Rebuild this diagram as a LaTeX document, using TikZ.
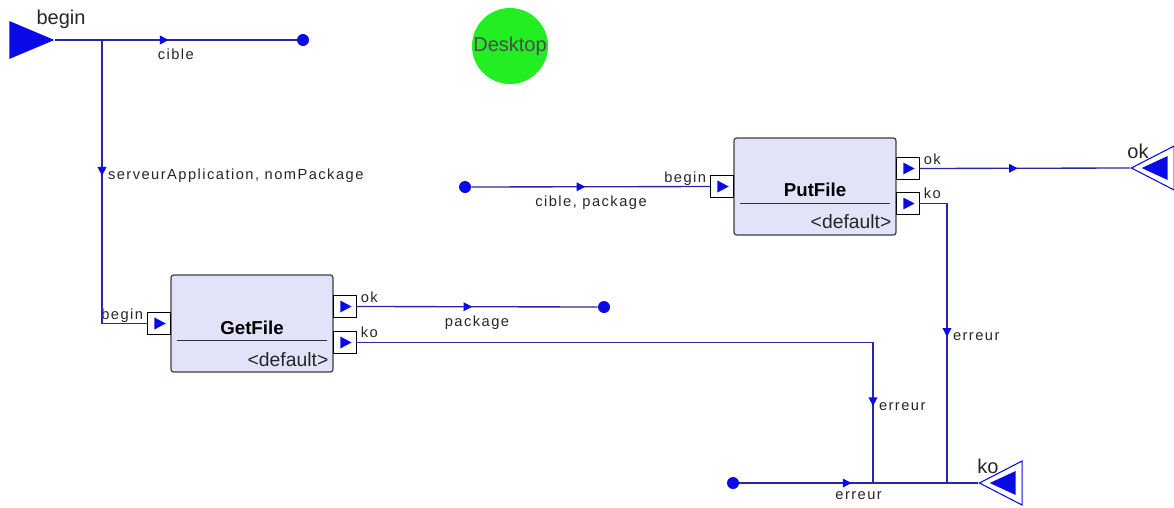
\documentclass[tikz,border=0pt]{standalone}
\usepackage{fontspec}
\setmainfont{Liberation Sans}
\newfontfamily\wirefont[LetterSpace=10]{Liberation Sans}
\usetikzlibrary{positioning,calc,shapes.geometric,decorations.markings,arrows.meta}

\definecolor{wireblue}{RGB}{40,40,165}
\definecolor{markblue}{RGB}{10,10,230}
\definecolor{boxfill}{RGB}{226,226,248}
\definecolor{boxline}{RGB}{60,60,70}
\definecolor{desktopgreen}{RGB}{34,238,34}

\begin{document}
\begin{tikzpicture}[
    x=0.75pt,
    y=-0.75pt,
    wire/.style={
        draw=wireblue,
        line width=1pt
    },
    flowmark/.style={
        postaction={decorate},
        decoration={markings,
            mark=at position #1 with {\arrow[markblue]{Triangle[length=6.5pt,width=6.5pt]}}}
    },
    wlabel/.style={
        font=\wirefont\fontsize{11}{13}\selectfont,
        text=black!85,
        inner sep=1pt
    },
    termlabel/.style={
        font=\fontsize{15}{17}\selectfont,
        text=black!85,
        inner sep=0pt
    },
    dot/.style={
        circle,
        fill=markblue,
        minimum size=9pt,
        inner sep=0pt
    },
    taskbox/.style={
        draw=boxline,
        fill=boxfill,
        rounded corners=2pt,
        line width=0.9pt,
        minimum width=121.5pt,
        minimum height=72.75pt,
        inner sep=0pt
    },
    tasktitle/.style={
        font=\fontsize{14}{16}\selectfont\bfseries,
        inner sep=0pt
    },
    taskdefault/.style={
        font=\fontsize{14.5}{16}\selectfont,
        text=black!85,
        inner sep=0pt
    },
    sepline/.style={
        draw=black!80,
        line width=0.8pt
    },
    port/.style={
        draw=black,
        fill=white,
        line width=0.8pt,
        minimum size=17pt,
        inner sep=0pt,
        outer sep=0pt,
        path picture={
            \fill[markblue] ([xshift=-3.5pt,yshift=4.5pt]path picture bounding box.center)
                -- ([xshift=5pt]path picture bounding box.center)
                -- ([xshift=-3.5pt,yshift=-4.5pt]path picture bounding box.center) -- cycle;
        }
    },
    startterm/.style={
        isosceles triangle,
        isosceles triangle stretches,
        shape border rotate=0,
        fill=markblue,
        minimum width=28.5pt,
        minimum height=33.75pt,
        inner sep=0pt
    },
    endterm/.style={
        isosceles triangle,
        isosceles triangle stretches,
        shape border rotate=180,
        draw=markblue,
        fill=white,
        line width=0.8pt,
        minimum width=33pt,
        minimum height=32pt,
        inner sep=0pt
    },
    endfill/.style={
        isosceles triangle,
        isosceles triangle stretches,
        shape border rotate=180,
        fill=markblue,
        minimum width=18pt,
        minimum height=19.5pt,
        inner sep=0pt
    },
    desktop/.style={
        circle,
        fill=desktopgreen,
        minimum size=57pt,
        inner sep=0pt,
        text=black!70,
        font=\fontsize{15}{17}\selectfont
    }
]
    \useasboundingbox (0,0) rectangle (1174,507);

    % terminals
    \node[startterm,anchor=apex] (start) at (55,40) {};
    \node[termlabel] (startlabel) at ($(start.apex)+(6,-21)$) {begin};
    \node[endterm,anchor=apex] (okterm) at (1130,168) {};
    \node[endfill,anchor=apex] (okfill) at ($(okterm.apex)+(11,0)$) {};
    \node[termlabel] (oklabel) at ($(okterm.apex)+(8,-17)$) {ok};
    \node[endterm,anchor=apex] (koterm) at (978,483) {};
    \node[endfill,anchor=apex] (kofill) at ($(koterm.apex)+(11,0)$) {};
    \node[termlabel] (kolabel) at ($(koterm.apex)+(10,-17)$) {ko};

    % desktop
    \node[desktop] (desktop) at (510,46) {Desktop};

    % end points
    \node[dot] (cibledot) at (303,40) {};
    \node[dot] (packagedot) at (604,307) {};
    \node[dot] (putdot) at (465,187) {};
    \node[dot] (errordot) at (733,483) {};

    % GetFile
    \node[taskbox] (getfile) at (252,323.5) {};
    \node[tasktitle] (getfiletitle) at ($(getfile.center)+(0,4)$) {GetFile};
    \draw[sepline] ($(getfile.west)+(7,17)$) -- ($(getfile.east)+(-7,17)$);
    \node[taskdefault,anchor=east] (getfiledefault) at ($(getfile.east)+(-5,36)$) {<default>};
    \node[port,left=0pt of getfile] (getfilebegin) {};
    \node[port,anchor=west] (getfileok) at ($(getfile.east)+(0,-17)$) {};
    \node[port,anchor=west] (getfileko) at ($(getfile.east)+(0,19)$) {};
    \node[wlabel,anchor=base east] at ($(getfilebegin.west)+(-3,-4)$) {begin};
    \node[wlabel,anchor=base west] at ($(getfileok.north east)+(3,7)$) {ok};
    \node[wlabel,anchor=base west] at ($(getfileko.north east)+(3,6)$) {ko};

    % PutFile
    \node[taskbox] (putfile) at (815,186.5) {};
    \node[tasktitle] (putfiletitle) at ($(putfile.center)+(0,3)$) {PutFile};
    \draw[sepline] ($(putfile.west)+(7,17)$) -- ($(putfile.east)+(-7,17)$);
    \node[taskdefault,anchor=east] (putfiledefault) at ($(putfile.east)+(-5,35)$) {<default>};
    \node[port,left=0pt of putfile] (putfilebegin) {};
    \node[port,anchor=west] (putfileok) at ($(putfile.east)+(0,-18)$) {};
    \node[port,anchor=west] (putfileko) at ($(putfile.east)+(0,17)$) {};
    \node[wlabel,anchor=base east] at ($(putfilebegin.west)+(-3,-4)$) {begin};
    \node[wlabel,anchor=base west] at ($(putfileok.north east)+(3,7)$) {ok};
    \node[wlabel,anchor=base west] at ($(putfileko.north east)+(3,6)$) {ko};

    % junctions
    \coordinate (branch) at (102,40);
    \coordinate (errjoina) at (873,483);
    \coordinate (errjoinb) at (947,483);

    % wires
    \draw[wire,flowmark=0.47] (start.apex) -- node[wlabel,below=5pt,pos=0.5] {cible} (cibledot);
    \draw[wire,flowmark=0.412] (branch) |-
        node[wlabel,anchor=west,pos=0.24,xshift=3pt] {serveurApplication, nomPackage} (getfilebegin);
    \draw[wire,flowmark=0.48] (getfileok.east) -- node[wlabel,below=5pt,pos=0.5] {package} (packagedot);
    \draw[wire,flowmark=0.883] (getfileko.east) -|
        node[wlabel,anchor=west,pos=0.727,xshift=3pt] {erreur} (errjoina);
    \draw[wire,flowmark=0.476] (putdot) -- node[wlabel,below=5pt,pos=0.5] {cible, package} (putfilebegin);
    \draw[wire,flowmark=0.467] (putfileok.east) -- (okterm.apex);
    \draw[wire,flowmark=0.524] (putfileko.east) -|
        node[wlabel,anchor=west,pos=0.739,xshift=3pt] {erreur} (errjoinb);
    \draw[wire,flowmark=0.47] (errordot) -- node[wlabel,below=5pt,pos=0.5] {erreur} (koterm.apex);
\end{tikzpicture}
\end{document}
